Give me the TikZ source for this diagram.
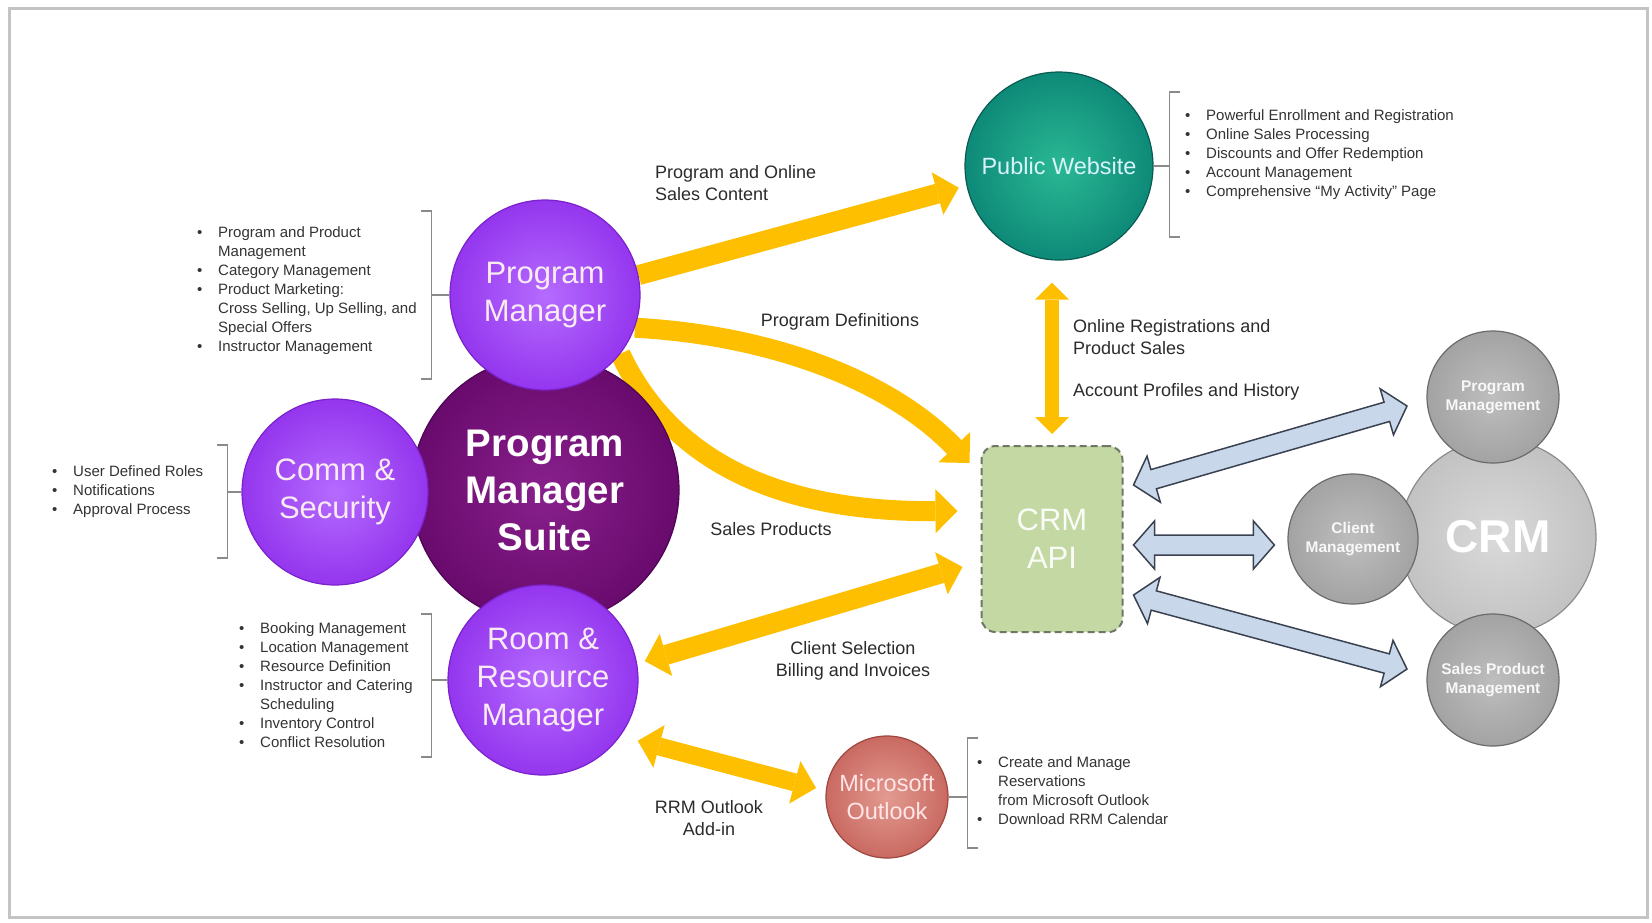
\documentclass[tikz,border=0pt]{standalone}
\usepackage{fontspec}
\setmainfont{Liberation Sans}
\usetikzlibrary{calc,arrows.meta}
\pgfdeclarelayer{back}
\pgfsetlayers{back,main}

\definecolor{gold}{HTML}{FDBF00}
\definecolor{suitein}{HTML}{88208C}
\definecolor{suiteout}{HTML}{690A6D}
\definecolor{suiteline}{HTML}{4E0454}
\definecolor{purpin}{HTML}{B56BFF}
\definecolor{purpout}{HTML}{9436EE}
\definecolor{purpline}{HTML}{7A22CC}
\definecolor{webin}{HTML}{2AB894}
\definecolor{webout}{HTML}{0E8A78}
\definecolor{webline}{HTML}{0A5A52}
\definecolor{lookin}{HTML}{E39A90}
\definecolor{lookout}{HTML}{C96A62}
\definecolor{lookline}{HTML}{9E463F}
\definecolor{crmin}{HTML}{DADADA}
\definecolor{crmout}{HTML}{C2C2C2}
\definecolor{crmline}{HTML}{8C8C8C}
\definecolor{subin}{HTML}{BEBEBE}
\definecolor{subout}{HTML}{A3A3A3}
\definecolor{subline}{HTML}{6B6B6B}
\definecolor{apifill}{HTML}{C4D8A4}
\definecolor{apiline}{HTML}{6F7767}
\definecolor{pipefill}{HTML}{C8D8EA}
\definecolor{pipeline}{HTML}{3A4150}
\definecolor{labelgray}{HTML}{2B2B2B}
\definecolor{listgray}{HTML}{333333}
\definecolor{brkgray}{HTML}{8A8A8A}
\definecolor{framegray}{HTML}{C4C4C4}

\newcommand{\itm}{\makebox[21pt][l]{\textbullet}}
\newcommand{\cont}{\hspace*{21pt}}

\begin{document}
\begin{tikzpicture}[x=1pt, y=-1pt,
    bubble/.style = {circle, draw=#1line, line width=1.2pt, inner color=#1in, outer color=#1out, inner sep=0pt, align=center},
    lbl/.style = {text=labelgray, font=\fontsize{18}{22}\selectfont, align=left, inner sep=0pt},
    listtext/.style = {text=listgray, font=\fontsize{15}{19}\selectfont, align=left, inner sep=0pt, anchor=west},
    brk/.style = {draw=brkgray, line width=1.4pt},
    flow/.style = {draw=gold, line width=20pt, -{Triangle[length=22pt, width=44pt, line width=0pt]}},
    flowboth/.style = {draw=gold, line width=20pt, {Triangle[length=22pt, width=44pt, line width=0pt]}-{Triangle[length=22pt, width=44pt, line width=0pt]}},
    thinboth/.style = {draw=gold, line width=14pt, {Triangle[length=17pt, width=34pt, line width=0pt]}-{Triangle[length=17pt, width=34pt, line width=0pt]}},
    pipe/.style = {draw=pipeline, fill=pipefill, line width=1.5pt, line join=miter,
      to path={-- ($(\tikztostart)!21pt!(\tikztotarget)!24pt!90:(\tikztotarget)$)
               -- ($(\tikztostart)!21pt!(\tikztotarget)!10pt!90:(\tikztotarget)$)
               -- ($(\tikztotarget)!21pt!(\tikztostart)!10pt!-90:(\tikztostart)$)
               -- ($(\tikztotarget)!21pt!(\tikztostart)!24pt!-90:(\tikztostart)$)
               -- (\tikztotarget)
               -- ($(\tikztotarget)!21pt!(\tikztostart)!24pt!90:(\tikztostart)$)
               -- ($(\tikztotarget)!21pt!(\tikztostart)!10pt!90:(\tikztostart)$)
               -- ($(\tikztostart)!21pt!(\tikztotarget)!10pt!-90:(\tikztotarget)$)
               -- ($(\tikztostart)!21pt!(\tikztotarget)!24pt!-90:(\tikztotarget)$)
               -- cycle}}]
    \useasboundingbox (0,0) rectangle (1652,922);
    \draw[framegray, line width=3pt] (9,8) rectangle (1647,917);

    \node[bubble=suite, minimum size=268pt, text=white, font=\bfseries\fontsize{38.5}{47}\selectfont] (suite) at (545,490) {Program\\Manager\\Suite};
    \node[bubble=purp, minimum size=186pt, text=purple!8, font=\fontsize{31}{38}\selectfont] (comm) at (335,492) {Comm \&\\Security};
    \node[bubble=purp, minimum size=190pt, text=purple!8, font=\fontsize{31}{38}\selectfont] (pm) at (545,295) {Program\\Manager};
    \node[bubble=purp, minimum size=190pt, text=purple!8, font=\fontsize{31}{38}\selectfont] (room) at (543,680) {Room \&\\Resource\\Manager};
    \node[bubble=web, minimum size=188pt, text=cyan!15, font=\fontsize{23.5}{28}\selectfont] (web) at (1059,166) {Public Website};
    \node[bubble=look, minimum size=122pt, text=red!10, font=\fontsize{23.5}{28}\selectfont] (outlook) at (887,797) {Microsoft\\Outlook};
    \node[rectangle, rounded corners=14pt, draw=apiline, dash pattern=on 7pt off 4pt, line width=2pt, fill=apifill,
          minimum width=141pt, minimum height=186pt, text=white!92!apifill, font=\fontsize{31}{38}\selectfont, align=center] (api) at (1052,539) {CRM\\API};
    \node[bubble=crm, minimum size=196pt, text=white, font=\bfseries\fontsize{46}{50}\selectfont] (crm) at (1498,537) {CRM};
    \node[bubble=sub, minimum size=132pt, text=white!92!subout, font=\bfseries\fontsize{15.5}{19}\selectfont] (crmprog) at (1493,397) {Program\\Management};
    \node[bubble=sub, minimum size=130pt, text=white!92!subout, font=\bfseries\fontsize{15.5}{19}\selectfont] (crmclient) at (1353,539) {Client\\Management};
    \node[bubble=sub, minimum size=132pt, text=white!92!subout, font=\bfseries\fontsize{15.5}{19}\selectfont] (crmsales) at (1493,680) {Sales Product\\Management};

    \coordinate (apiin1) at ($(api.north west)+(-11,18)$);
    \coordinate (apiin2) at ($(api.west)+(-23,-28)$);
    \coordinate (apiin3) at ($(api.west)+(-18,28)$);
    \coordinate (apiout1) at ($(api.east)+(10,-54)$);
    \coordinate (apiout2) at ($(api.east)+(10,6)$);
    \coordinate (apiout3) at ($(api.east)+(10,56)$);
    \coordinate (progin) at ($(crmprog)+(-86,9)$);
    \coordinate (clientin) at ($(crmclient.west)+(-13,6)$);
    \coordinate (salesin) at ($(crmsales)+(-86,-11)$);

    \begin{pgfonlayer}{back}
    \draw[flow, shorten >=8pt] (pm.12) -- (web.192);
    \draw[flow] (pm.-20) .. controls (770,335) and (890,380) .. (apiin1);
    \draw[flow] (pm.-38) .. controls (680,480) and (810,512) .. (apiin2);
    \draw[flowboth, shorten <=8pt] (room.10) -- (apiin3);
    \draw[flowboth, line width=18pt, shorten <=18pt, shorten >=10pt] (room.-36) -- (outlook.174);
    \draw[thinboth, shorten <=11pt, shorten >=22pt] (api.north) -- (api.north |- web.south);
    \end{pgfonlayer}

    \draw[pipe] (apiout1) to (progin);
    \draw[pipe] (apiout2) to (clientin);
    \draw[pipe] (apiout3) to (salesin);

    \node[lbl, anchor=west] (lcontent) at (655,183) {Program and Online\\Sales Content};
    \node[lbl] (ldefs) at (840,322) {Program Definitions};
    \node[lbl] (lsales) at (771,529) {Sales Products};
    \node[lbl, anchor=west] (lonline) at (1073,337) {Online Registrations and\\Product Sales};
    \node[lbl, anchor=west] (lprofiles) at (1073,392) {Account Profiles and History};
    \node[lbl, align=center] (lbilling) at (853,661) {Client Selection\\Billing and Invoices};
    \node[lbl, align=center] (laddin) at (709,818) {RRM Outlook\\Add-in};

    \draw[brk] (pm.west) -- ++(-18,0) ++(-10,-84) -- ++(10,0) -- ++(0,168) -- ++(-10,0);
    \draw[brk] (comm.west) -- ++(-14,0) ++(-10,-47) -- ++(10,0) -- ++(0,113) -- ++(-10,0);
    \draw[brk] (room.west) -- ++(-16,0) ++(-10,-66) -- ++(10,0) -- ++(0,143) -- ++(-10,0);
    \draw[brk] (web.east) -- ++(16,0) ++(10,-74) -- ++(-10,0) -- ++(0,145) -- ++(10,0);
    \draw[brk] (outlook.east) -- ++(19,0) ++(10,-59) -- ++(-10,0) -- ++(0,110) -- ++(10,0);

    \node[listtext] (pmlist) at (197,291) {\itm Program and Product\\ \cont Management\\ \itm Category Management\\ \itm Product Marketing:\\ \cont Cross Selling, Up Selling, and\\ \cont Special Offers\\ \itm Instructor Management};
    \node[listtext] (commlist) at (52,492) {\itm User Defined Roles\\ \itm Notifications\\ \itm Approval Process};
    \node[listtext] (roomlist) at (239,685) {\itm Booking Management\\ \itm Location Management\\ \itm Resource Definition\\ \itm Instructor and Catering\\ \cont Scheduling\\ \itm Inventory Control\\ \itm Conflict Resolution};
    \node[listtext] (weblist) at (1185,155) {\itm Powerful Enrollment and Registration\\ \itm Online Sales Processing\\ \itm Discounts and Offer Redemption\\ \itm Account Management\\ \itm Comprehensive ``My Activity'' Page};
    \node[listtext] (looklist) at (977,791) {\itm Create and Manage\\ \cont Reservations\\ \cont from Microsoft Outlook\\ \itm Download RRM Calendar};
\end{tikzpicture}
\end{document}
